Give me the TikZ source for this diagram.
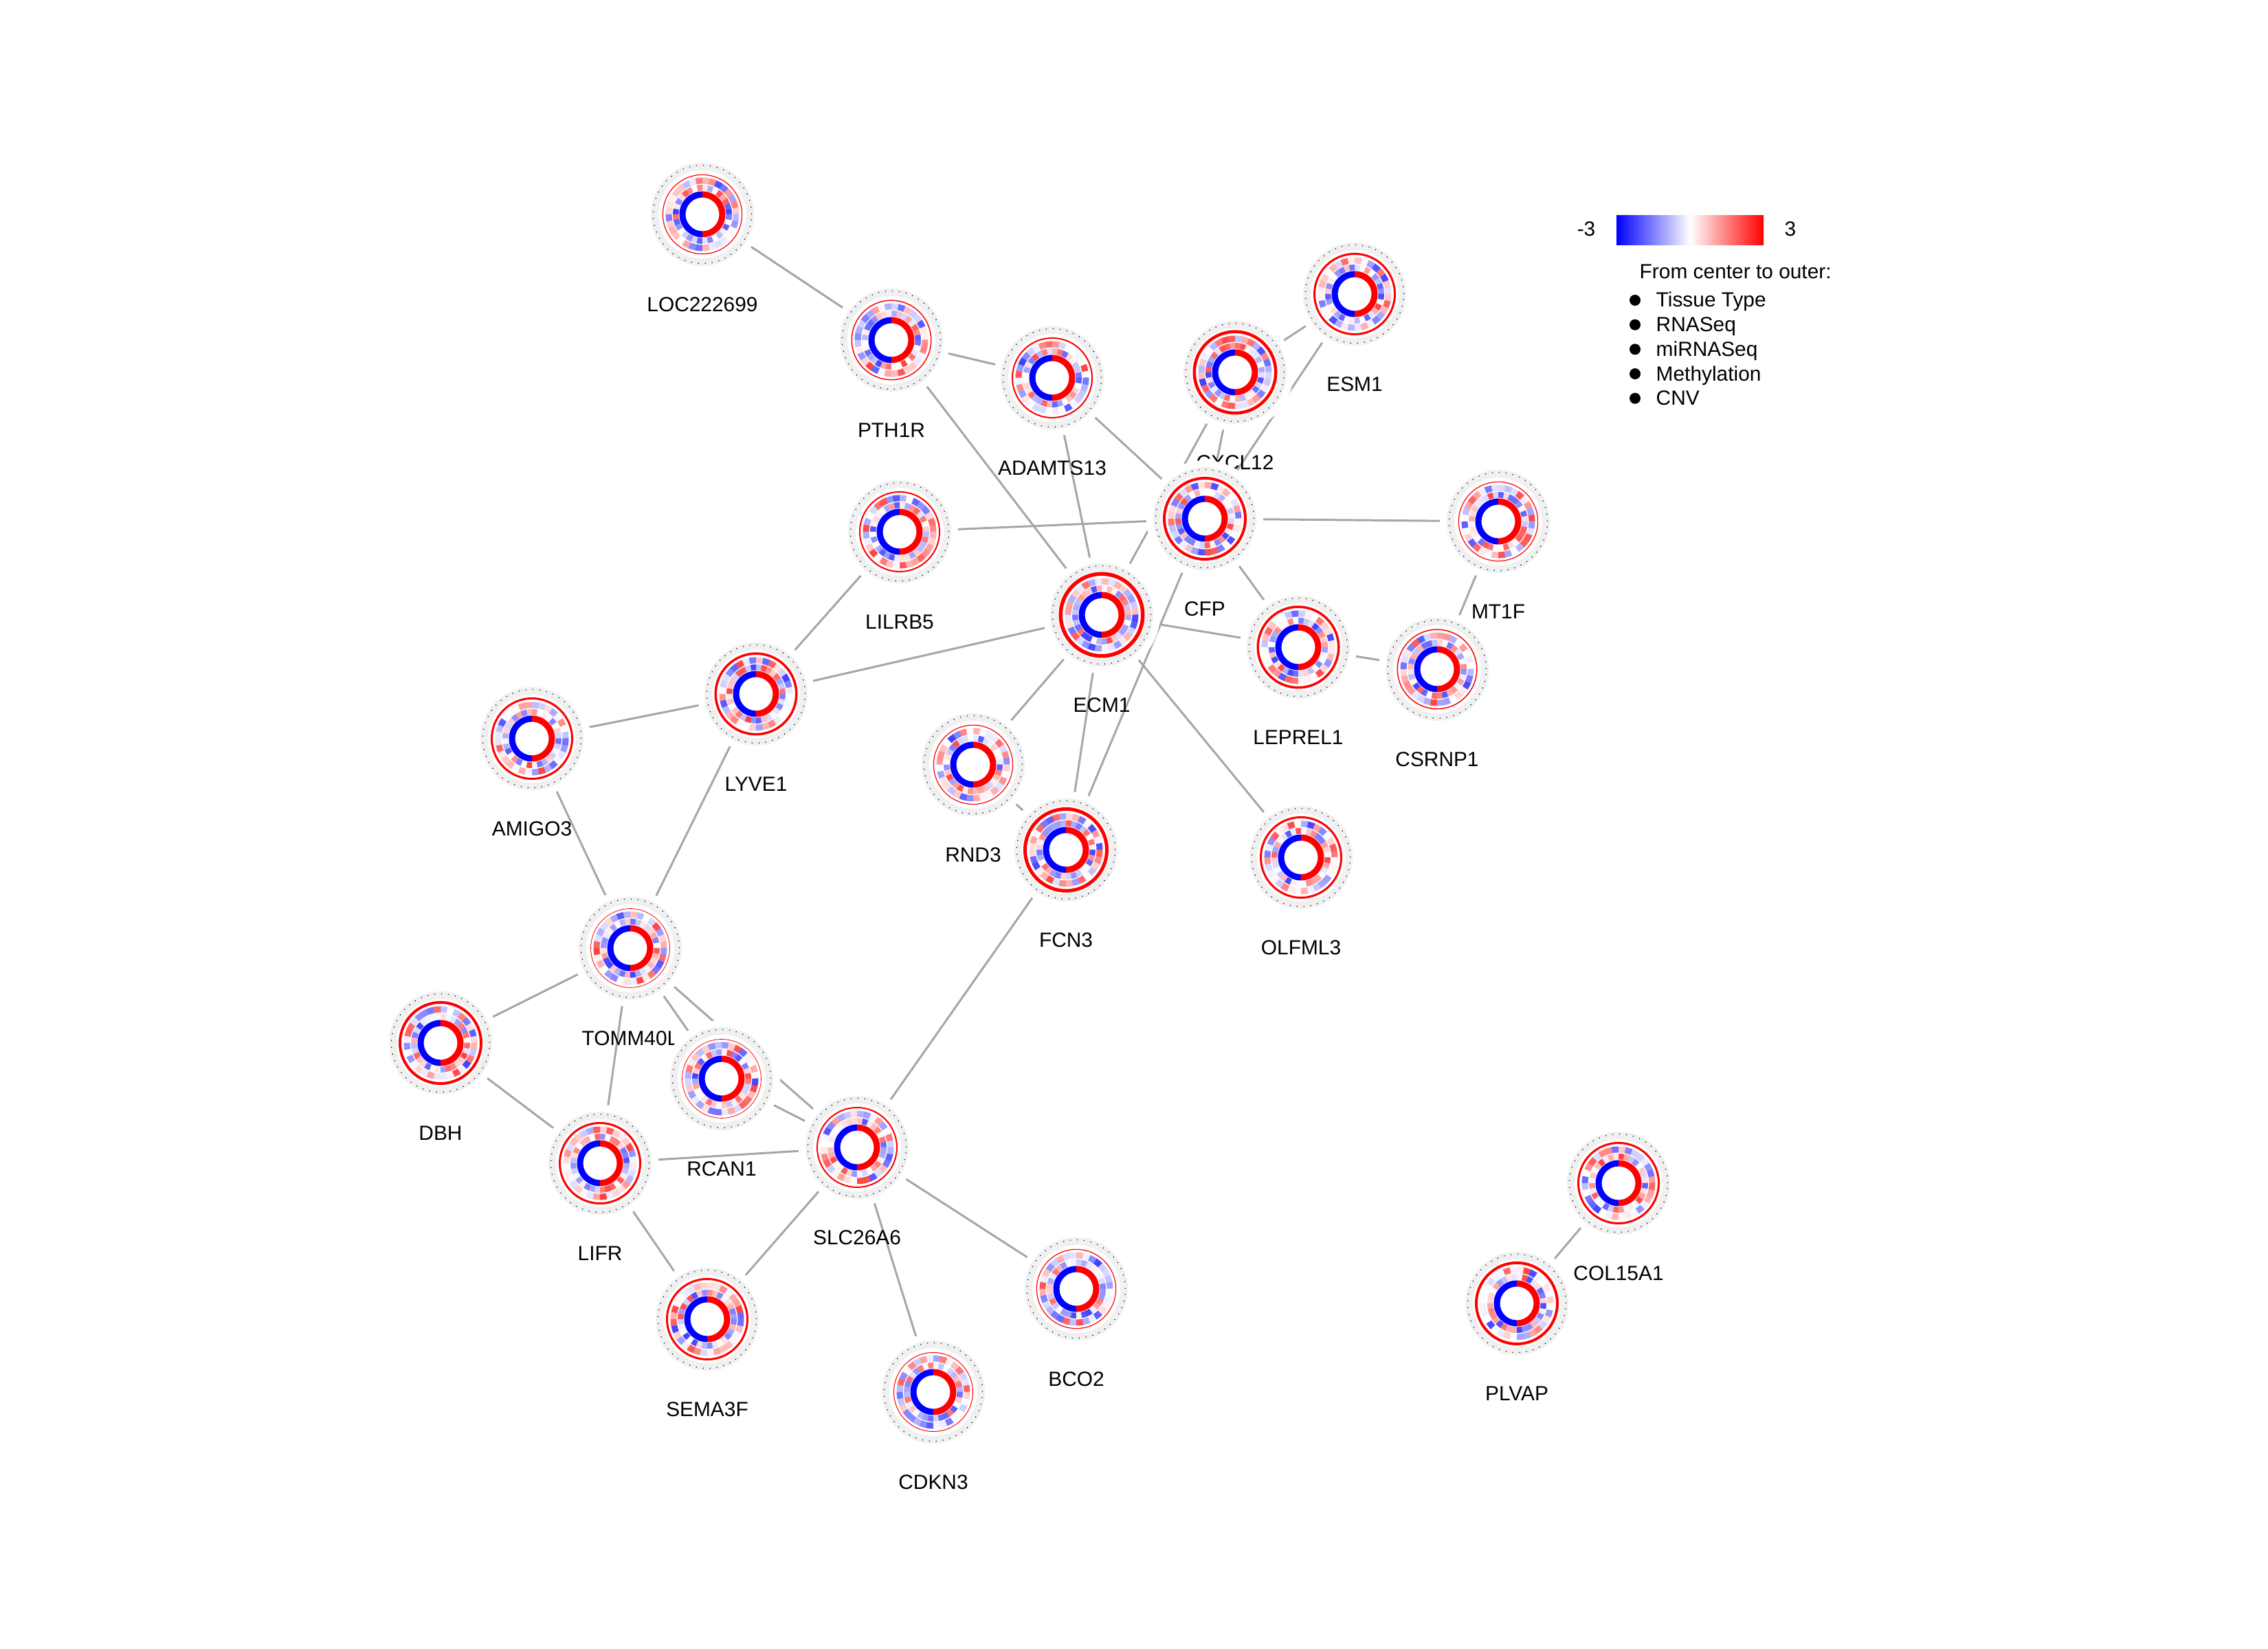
\documentclass[tikz,border=0pt]{standalone}
\usepackage{fontspec}
\setmainfont{Liberation Sans}
\usetikzlibrary{positioning,backgrounds}
\usepackage{xcolor}
\definecolor{linkgray}{RGB}{166,166,166}
\definecolor{ringgray}{RGB}{240,240,240}
\pgfdeclarehorizontalshading{bluewhitered}{100bp}{color(0bp)=(blue); color(25bp)=(blue); color(50bp)=(white); color(75bp)=(red); color(100bp)=(red)}
\newcommand\genefont{\fontsize{8.5}{10}\selectfont}

% one ring of 32 coloured blocks, radii #1 to #2
\newcommand\segring[2]{%
  \foreach \k in {0,...,31}{%
    \pgfmathsetmacro\segv{rand}%
    \pgfmathtruncatemacro\segp{75*abs(\segv)^1.5}%
    \ifdim\segv pt<0pt\colorlet{segcol}{blue!\segp!white}\else\colorlet{segcol}{red!\segp!white}\fi
    \fill[segcol] (\k*11.25:#1) arc[start angle=\k*11.25, end angle=\k*11.25+11.8, radius=#1] -- (\k*11.25+11.8:#2) arc[start angle=\k*11.25+11.8, end angle=\k*11.25, radius=#2] -- cycle;
  }}

% rings of a gene node: #1 node, #2 CNV width (cm), #3 seed
\newcommand\generings[3]{%
  \begin{scope}[shift={(#1.center)}]
    \fill[ringgray, even odd rule] (0,0) circle (0.75) circle (0.64);
    \draw[dotring] (0,0) circle (0.715);
    \draw[red, line width=#2cm] (0,0) circle ({0.57+#2/2});
    \pgfmathsetseed{#3}
    \segring{0.445}{0.535}
    \segring{0.345}{0.43}
    \fill[blue] (90:0.335) arc[start angle=90, end angle=270, radius=0.335] -- (270:0.245) arc[start angle=270, end angle=90, radius=0.245] -- cycle;
    \fill[red] (-90:0.335) arc[start angle=-90, end angle=90, radius=0.335] -- (90:0.245) arc[start angle=90, end angle=-90, radius=0.245] -- cycle;
  \end{scope}}

\begin{document}
\begin{tikzpicture}[
    gene/.style={circle, fill=white, minimum size=1.7cm, inner sep=0pt, outer sep=0pt},
    genelabel/.style={font=\genefont, inner sep=0pt},
    legtext/.style={font=\genefont, inner sep=0pt, anchor=base west},
    dotring/.style={black, line width=0.35pt, dash pattern=on 0.35pt off 2.5pt},
    genelink/.style={linkgray, line width=0.85pt}]
    \useasboundingbox (0,0) rectangle (33,24);

    % gene nodes
    \foreach \n/\x/\y/\txt/\cnv [count=\s] in {
        loc/10.22/20.88/LOC222699/0.012, pth/12.97/19.05/PTH1R/0.015,
        adam/15.31/18.50/ADAMTS13/0.02, esm/19.71/19.72/ESM1/0.03,
        cxcl/17.97/18.58/CXCL12/0.045, cfp/17.53/16.45/CFP/0.04,
        mt1f/21.80/16.41/MT1F/0.012, lilrb/13.09/16.26/LILRB5/0.02,
        ecm/16.03/15.05/ECM1/0.055, leprel/18.89/14.58/LEPREL1/0.035,
        csrnp/20.91/14.26/CSRNP1/0.015, lyve/11.00/13.90/LYVE1/0.035,
        amigo/7.74/13.25/AMIGO3/0.03, rnd/14.16/12.87/RND3/0.012,
        fcn/15.51/11.63/FCN3/0.05, olfml/18.93/11.52/OLFML3/0.03,
        tomm/9.17/10.20/TOMM40L/0.008, dbh/6.41/8.82/DBH/0.04,
        rcan/10.50/8.30/RCAN1/0.008, lifr/8.73/7.07/LIFR/0.03,
        slc/12.47/7.30/SLC26A6/0.02, bco/15.66/5.24/BCO2/0.012,
        sema/10.29/4.80/SEMA3F/0.03, cdkn/13.58/3.74/CDKN3/0.01,
        col/23.55/6.78/COL15A1/0.03, plvap/22.07/5.03/PLVAP/0.04}{
        \node[gene] (\n) at (\x,\y) {};
        \node[genelabel, below=3.5mm of \n] (\n-lab) {\txt};
        \generings{\n}{\cnv}{\s*37+11}
    }

    % interactions
    \begin{scope}[on background layer]
        \fill[white] (0,0) rectangle (33,24);
        \foreach \a/\b in {loc/pth, pth/adam, pth/ecm, adam/ecm, adam/cfp,
            cxcl/esm, cxcl/cfp, cxcl/ecm, esm/cfp, cfp/lilrb, cfp/mt1f,
            cfp/leprel, cfp/fcn, ecm/lyve, ecm/leprel, ecm/rnd, ecm/fcn,
            ecm/olfml, leprel/csrnp, csrnp/mt1f, lilrb/lyve, lyve/amigo,
            lyve/tomm, amigo/tomm, rnd/fcn, fcn/slc, tomm/dbh, tomm/rcan,
            tomm/slc, tomm/lifr, dbh/lifr, lifr/slc, lifr/sema, slc/sema,
            slc/cdkn, slc/bco, rcan/slc, col/plvap}
            \draw[genelink] (\a) -- (\b);
    \end{scope}

    % legend
    \node[font=\genefont] (lowval) at (23.08,20.67) {-3};
    \node[shade, shading=bluewhitered, minimum width=2.14cm, minimum height=0.43cm, inner sep=0pt] (cbar) at (24.59,20.645) {};
    \node[font=\genefont] (highval) at (26.05,20.67) {3};
    \node[legtext] (legtitle) at (23.85,19.94) {From center to outer:};
    \foreach \t [count=\i] in {Tissue Type, RNASeq, miRNASeq, Methylation, CNV}{
        \node[circle, fill=black, minimum size=1.6mm, inner sep=0pt] (dot\i) at (23.79,{19.63-0.357*(\i-1)}) {};
        \node[legtext] (item\i) at (24.09,{19.53-0.357*(\i-1)}) {\t};
    }
\end{tikzpicture}
\end{document}
